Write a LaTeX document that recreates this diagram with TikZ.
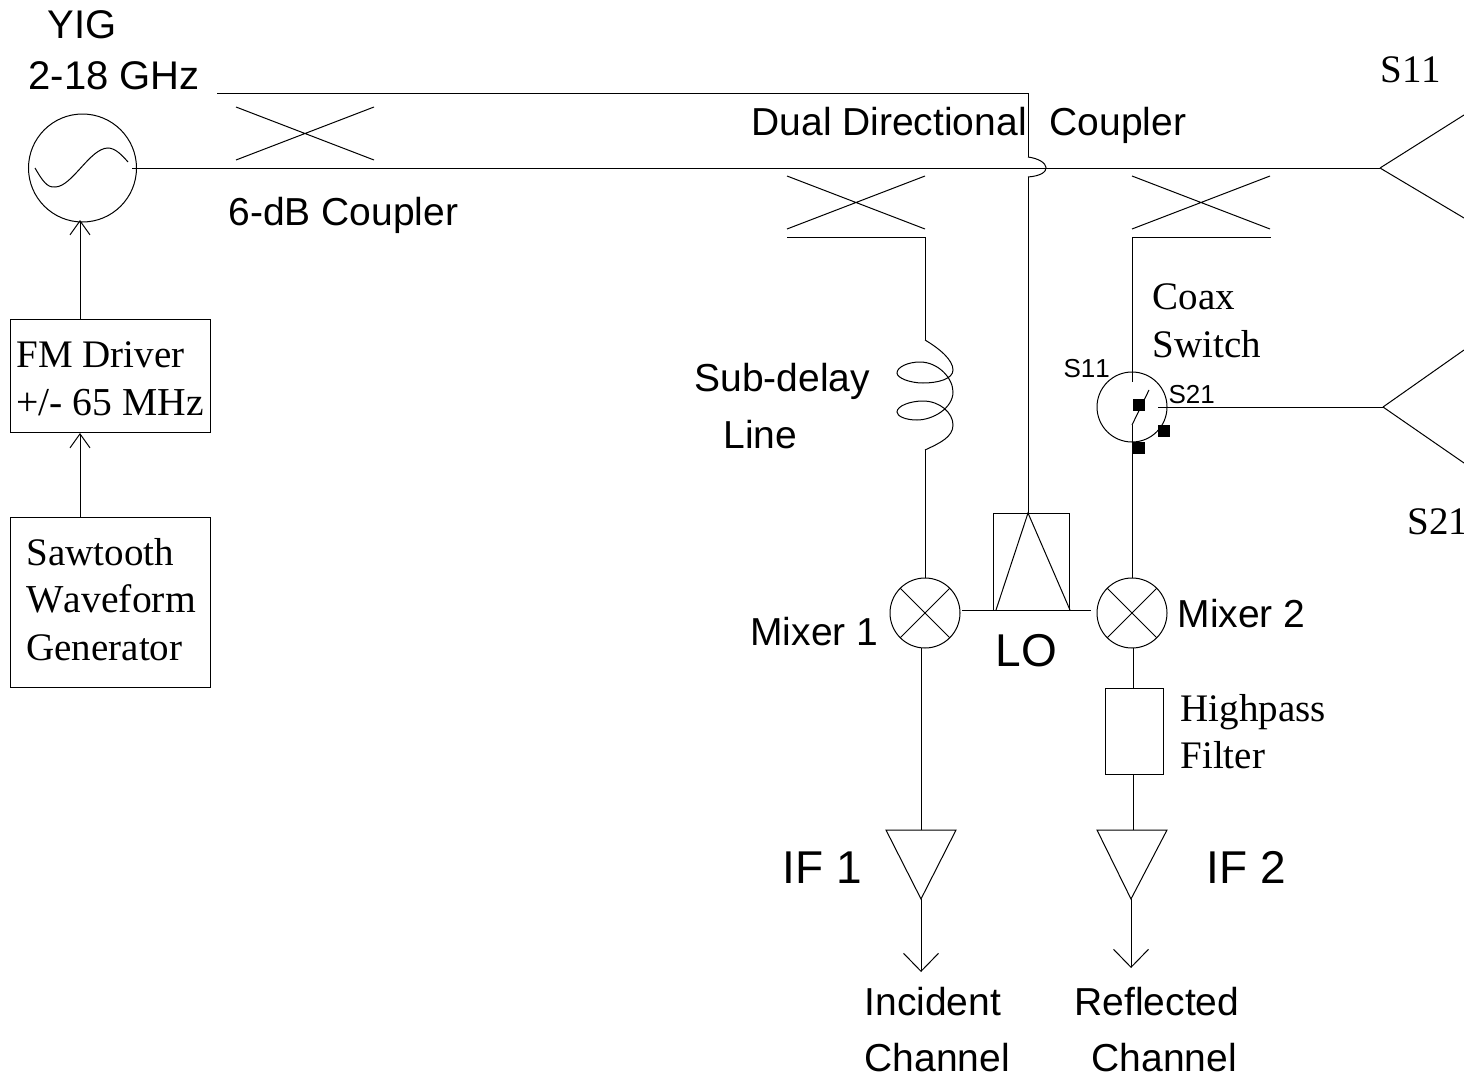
\documentclass[tikz,border=0pt]{standalone}
\usepackage{fontspec}
\setmainfont[Kerning=Off]{Liberation Serif}
\newfontfamily\arialfont[Kerning=Off]{Liberation Sans}
\usetikzlibrary{arrows.meta,positioning,calc}

\begin{document}
\begin{tikzpicture}[x=1pt,y=-1pt,line width=1pt,
sanslabel/.style={anchor=base west,inner sep=0pt,font=\fontsize{39}{39}\arialfont},
yiglabel/.style={anchor=base west,inner sep=0pt,font=\fontsize{40}{40}\arialfont},
biglabel/.style={anchor=base west,inner sep=0pt,font=\fontsize{46}{46}\arialfont},
smalllabel/.style={anchor=base west,inner sep=0pt,font=\fontsize{26}{26}\arialfont},
seriflabel/.style={anchor=base west,inner sep=0pt,font=\fontsize{39}{39}\selectfont},
wideserif/.style={anchor=base west,inner sep=0pt,font=\fontsize{39.6}{39.6}\selectfont},
ringnode/.style={draw,circle,inner sep=0pt,minimum size=70pt},
portmark/.style={fill=black,inner sep=0pt,minimum size=12pt},
smallarrow/.style={-{Straight Barb[length=14pt,width=20pt]}},
bigarrow/.style={-{Straight Barb[length=18pt,width=35pt]}}]
\useasboundingbox (0,0) rectangle (1464,1076);

% sources on the left
\node[draw,circle,inner sep=0pt,minimum size=108pt] (osc) at (82.5,168) {};
\node[draw,minimum width=200pt,minimum height=113pt] (fmdrv) at (110.5,376) {};
\node[draw,minimum width=200pt,minimum height=170pt] (saw) at (110.5,602.5) {};
\draw (35,168) .. controls (42,180) and (47,188) .. (55,187) .. controls (72,187) and (90,148) .. (108,148) .. controls (115,148) and (122,155) .. (128,162);

% mixers, switch, filter
\node[ringnode] (mix1) at (925,613) {};
\node[ringnode] (mix2) at (1132,613) {};
\node[ringnode] (coax) at (1132,407) {};
\node[draw,minimum width=58pt,minimum height=86pt] (hpf) at (1134,731) {};
\node[draw,minimum width=76pt,minimum height=97pt] (lobox) at (1031.5,561.5) {};
\node[portmark] (pa) at (1139,405) {};
\node[portmark] (pb) at (1164,431) {};
\node[portmark] (pc) at (1139,448) {};
\draw (mix1.45) -- (mix1.225) (mix1.135) -- (mix1.315);
\draw (mix2.45) -- (mix2.225) (mix2.135) -- (mix2.315);

\coordinate (top0) at (217,93);
\coordinate (top1) at (1028,93);
\coordinate (hop0) at (1028,157);
\coordinate (hop1) at (1028,177);
\coordinate (loapex) at (1028,513);
\coordinate (lobl) at (996,610);
\coordinate (lobr) at (1070,610);
\coordinate (ant1) at (1380,168);
\coordinate (ant2) at (1383,407);
\coordinate (sw0) at (1132,382);
\coordinate (sw1) at (1132,425);
\coordinate (sw2) at (1149,390);
\coordinate (cpl1) at (925,237);
\coordinate (cpl2) at (1132,237);
\coordinate (coil0) at (925,340);
\coordinate (coil1) at (925,450);

% couplers
\foreach \cx/\cy in {236/107,787/176,1132/176}
  \draw (\cx,\cy) -- ++(138,53) (\cx,\cy+53) -- ++(138,-53);
\draw (787,237) -- (cpl1);
\draw (cpl2) -- (1271,237);
\draw (top0) -- (top1) -- (hop0);
\draw (hop0) .. controls (1050,160) and (1054,175) .. (hop1);
\draw (hop1) -- (loapex);
\draw (lobl) -- (loapex) -- (lobr);

% coil
\draw (coil0) .. controls (940,349) and (953,360) .. (953,370) .. controls (953,379) and (938,383) .. (923,383)
 .. controls (910,383) and (897,378) .. (897,373) .. controls (897,367) and (908,362) .. (920,362)
 .. controls (938,362) and (953,378) .. (953,392) .. controls (953,408) and (933,420) .. (917,420)
 .. controls (905,420) and (897,416) .. (897,412) .. controls (897,406) and (910,401) .. (923,401)
 .. controls (940,401) and (953,413) .. (953,425) .. controls (953,437) and (940,443) .. (coil1);

% wires
\path[-]
([xshift=-5pt]osc.east) edge (ant1)
(cpl1) edge (coil0)
(coil1) edge (mix1.north)
(cpl2) edge (sw0)
(sw1) edge (mix2.north)
(sw1) edge (sw2)
(1158,407) edge (ant2)
(962,610) edge (1091,610)
;
\draw (ant1) -- (1464,115) (ant1) -- (1464,218);
\draw (ant2) -- (1464,350) (ant2) -- (1464,463);

\path[smallarrow]
(saw.north -| 80,0) edge (fmdrv.south -| 80,0)
(fmdrv.north -| 80,0) edge (80,220)
;

% amplifiers
\coordinate (if1tip) at (921,899);
\coordinate (if2tip) at (1131,899);
\draw (886,830) -- (956,830) -- (if1tip) -- cycle;
\draw (1097,830) -- (1167,830) -- (if2tip) -- cycle;
\draw (921,648) -- (921,830);
\draw (1133,648) -- (hpf.north -| 1133,0);
\draw (hpf.south -| 1133,0) -- (1133,830);
\path[bigarrow]
(if1tip) edge (921,972)
(if2tip) edge (1131,968)
;

% labels
\node[yiglabel] (yig1) at (47,38) {YIG};
\node[yiglabel] (yig2) at (28,89) {2-18 GHz};
\node[sanslabel] (ddc1) at (751,135) {Dual Directional};
\node[sanslabel] (ddc2) at (1049,135) {Coupler};
\node[sanslabel] (six) at (228,225) {6-dB Coupler};
\node[seriflabel] (fm1) at (16,367) {FM Driver};
\node[wideserif] (fm2) at (16,415) {+/- 65 MHz};
\node[seriflabel] (saw1) at (26,565) {Sawtooth};
\node[wideserif] (saw2) at (26,612) {Waveform};
\node[seriflabel] (saw3) at (26,660) {Generator};
\node[sanslabel] (sub1) at (694,391) {Sub-delay};
\node[sanslabel] (sub2) at (723,448) {Line};
\node[seriflabel] (cx1) at (1152,309) {Coax};
\node[seriflabel] (cx2) at (1152,357) {Switch};
\node[smalllabel] (ps1) at (1063,377) {S11};
\node[smalllabel] (ps2) at (1168,403) {S21};
\node[seriflabel] (s11) at (1380,82) {S11};
\node[seriflabel] (s21) at (1407,534) {S21};
\node[sanslabel] (mx1) at (750,645) {Mixer 1};
\node[sanslabel] (mx2) at (1177,627) {Mixer 2};
\node[biglabel] (lo) at (995,666) {LO};
\node[seriflabel] (hp1) at (1180,721) {Highpass};
\node[seriflabel] (hp2) at (1180,768) {Filter};
\node[biglabel] (if1) at (782,883) {IF 1};
\node[biglabel] (if2) at (1206,883) {IF 2};
\node[sanslabel] (inc1) at (864,1015) {Incident};
\node[sanslabel] (inc2) at (864,1071) {Channel};
\node[sanslabel] (ref1) at (1074,1015) {Reflected};
\node[sanslabel] (ref2) at (1091,1071) {Channel};
\end{tikzpicture}
\end{document}
